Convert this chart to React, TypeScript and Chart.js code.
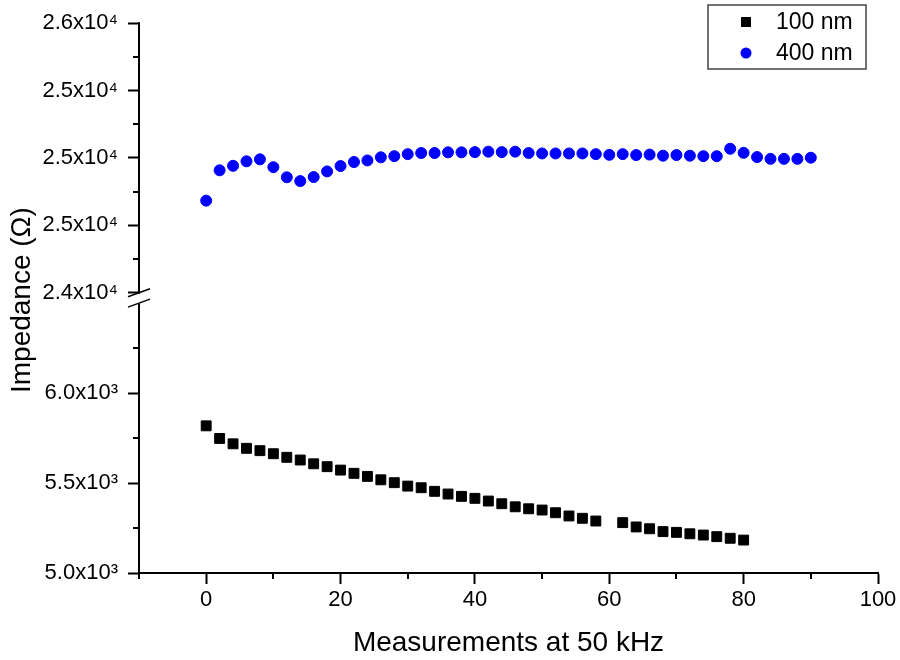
import React, { useEffect, useRef } from 'react';
import { Chart, registerables } from 'chart.js';

Chart.register(...registerables);

const X_TITLE = 'Measurements at 50 kHz';
const Y_TITLE = 'Impedance (Ω)';
const SERIES_NAMES = ['100 nm', '400 nm'];

const X_100 = [0, 2, 4, 6, 8, 10, 12, 14, 16, 18, 20, 22, 24, 26, 28, 30, 32, 34, 36, 38, 40, 42, 44, 46, 48, 50, 52, 54, 56, 58, 62, 64, 66, 68, 70, 72, 74, 76, 78, 80];
const Y_100 = [5818, 5748, 5718, 5693, 5680, 5663, 5643, 5628, 5607, 5591, 5572, 5554, 5537, 5518, 5502, 5483, 5474, 5454, 5439, 5426, 5415, 5400, 5385, 5368, 5357, 5350, 5335, 5317, 5304, 5289, 5280, 5256, 5246, 5230, 5226, 5218, 5211, 5202, 5193, 5183];

const X_400 = [0, 2, 4, 6, 8, 10, 12, 14, 16, 18, 20, 22, 24, 26, 28, 30, 32, 34, 36, 38, 40, 42, 44, 46, 48, 50, 52, 54, 56, 58, 60, 62, 64, 66, 68, 70, 72, 74, 76, 78, 80, 82, 84, 86, 88, 90];
const Y_400 = [24810, 24945, 24965, 24985, 24994, 24959, 24914, 24897, 24915, 24940, 24964, 24982, 24989, 25003, 25008, 25017, 25022, 25022, 25025, 25025, 25026, 25028, 25026, 25028, 25022, 25020, 25020, 25020, 25020, 25017, 25014, 25017, 25013, 25015, 25010, 25013, 25010, 25008, 25008, 25041, 25023, 25004, 24996, 24996, 24996, 25001];

const X_RANGE = [-10, 100];
const X_TICKS = [0, 20, 40, 60, 80, 100];
const X_MINOR = [-10, 10, 30, 50, 70, 90];

const TOP_RANGE = [24376, 25600];
const TOP_TICKS = [24400, 24700, 25000, 25300, 25600];
const TOP_MINOR = [24550, 24850, 25150, 25450];

const BOT_RANGE = [5000, 6528];
const BOT_BREAK = 6500;
const BOT_TICKS = [5000, 5500, 6000];
const BOT_MINOR = [5250, 5750, 6250];

const FONT = "'Liberation Sans', Arial, sans-serif";

function sci(v: number, exp: number, sup: string) {
  return (v / Math.pow(10, exp)).toFixed(1) + 'x10' + sup;
}

const decorPlugin = {
  id: 'decor',
  afterDraw(chart: any) {
    const ctx = chart.ctx;
    const xs = chart.scales.x;
    const yt = chart.scales.yTop;
    const yb = chart.scales.yBot;
    const ax = chart.chartArea.left;
    ctx.save();
    ctx.strokeStyle = '#000';
    ctx.lineWidth = 2;
    const breakTop = yt.getPixelForValue(TOP_TICKS[0]);
    const breakBot = yb.getPixelForValue(BOT_BREAK);
    // axis lines
    ctx.beginPath();
    ctx.moveTo(ax, yt.getPixelForValue(TOP_TICKS[TOP_TICKS.length - 1]) - 1);
    ctx.lineTo(ax, breakTop + 1);
    ctx.moveTo(ax, breakBot);
    ctx.lineTo(ax, yb.bottom + 1);
    ctx.stroke();
    // break slashes
    ctx.lineWidth = 1.5;
    ctx.beginPath();
    ctx.moveTo(ax - 11, breakTop + 4);
    ctx.lineTo(ax + 11, breakTop - 4);
    ctx.moveTo(ax - 11, breakBot + 4);
    ctx.lineTo(ax + 11, breakBot - 4);
    ctx.stroke();
    // minor ticks
    ctx.lineWidth = 2;
    ctx.beginPath();
    X_MINOR.forEach((v) => {
      const p = Math.round(xs.getPixelForValue(v));
      ctx.moveTo(p, xs.top);
      ctx.lineTo(p, xs.top + 6);
    });
    TOP_MINOR.forEach((v) => {
      const p = Math.round(yt.getPixelForValue(v));
      ctx.moveTo(ax - 6, p);
      ctx.lineTo(ax, p);
    });
    BOT_MINOR.forEach((v) => {
      const p = Math.round(yb.getPixelForValue(v));
      ctx.moveTo(ax - 6, p);
      ctx.lineTo(ax, p);
    });
    ctx.stroke();
    // y title
    ctx.fillStyle = '#000';
    ctx.font = `28px ${FONT}`;
    ctx.textAlign = 'center';
    ctx.textBaseline = 'middle';
    ctx.save();
    ctx.translate(22, (chart.chartArea.top + chart.chartArea.bottom) / 2 + 2);
    ctx.rotate(-Math.PI / 2);
    ctx.fillText(Y_TITLE, 0, 0);
    ctx.restore();
    // legend
    const lx = 708, ly = 5, lw = 158, lh = 64;
    ctx.lineWidth = 1.5;
    ctx.strokeStyle = '#444';
    ctx.strokeRect(lx, ly, lw, lh);
    ctx.font = `23px ${FONT}`;
    ctx.textAlign = 'left';
    chart.data.datasets.forEach((ds: any, i: number) => {
      const cy = ly + 17 + i * 31;
      const cx = lx + 38;
      ctx.fillStyle = ds.backgroundColor;
      if (ds.pointStyle === 'rect') {
        ctx.fillRect(cx - 5, cy - 5, 10, 10);
      } else {
        ctx.beginPath();
        ctx.arc(cx, cy, 5.5, 0, Math.PI * 2);
        ctx.fill();
      }
      ctx.fillStyle = '#000';
      ctx.fillText(ds.label, lx + 68, cy + 1);
    });
    ctx.restore();
  },
};

export default function App() {
  const ref = useRef<HTMLCanvasElement | null>(null);
  useEffect(() => {
    if (!ref.current) return;
    const chart = new Chart(ref.current, {
      type: 'scatter',
      data: {
        datasets: [
          {
            label: SERIES_NAMES[0],
            data: X_100.map((x, i) => ({ x, y: Y_100[i] })),
            yAxisID: 'yBot',
            pointStyle: 'rect',
            pointRadius: 7,
            pointHoverRadius: 7,
            backgroundColor: '#000000',
            borderColor: '#000000',
            borderWidth: 1,
          },
          {
            label: SERIES_NAMES[1],
            data: X_400.map((x, i) => ({ x, y: Y_400[i] })),
            yAxisID: 'yTop',
            pointStyle: 'circle',
            pointRadius: 5.5,
            pointHoverRadius: 5.5,
            backgroundColor: '#0000ff',
            borderColor: '#0000ff',
            borderWidth: 1,
          },
        ],
      },
      options: {
        animation: false,
        responsive: false,
        events: [],
        layout: { padding: { top: 23, right: 22, left: 0, bottom: 0 } },
        plugins: { legend: { display: false }, tooltip: { enabled: false } },
        scales: {
          x: {
            type: 'linear',
            min: X_RANGE[0],
            max: X_RANGE[1],
            afterBuildTicks: (s: any) => {
              s.ticks = X_TICKS.map((v) => ({ value: v }));
            },
            afterFit: (s: any) => {
              s.height = 87;
            },
            ticks: {
              autoSkip: false,
              maxRotation: 0,
              padding: 3,
              color: '#000',
              font: { family: FONT, size: 22 },
            },
            grid: {
              drawOnChartArea: false,
              drawTicks: true,
              tickLength: 11,
              tickWidth: 2,
              tickColor: '#000',
            },
            border: { display: true, color: '#000', width: 2 },
            title: {
              display: true,
              text: X_TITLE,
              color: '#000',
              font: { family: FONT, size: 28 },
              padding: 0,
            },
          },
          yTop: {
            type: 'linear',
            position: 'left',
            stack: 'ystack',
            stackWeight: 1,
            weight: 1,
            min: TOP_RANGE[0],
            max: TOP_RANGE[1],
            afterBuildTicks: (s: any) => {
              s.ticks = TOP_TICKS.map((v) => ({ value: v }));
            },
            afterFit: (s: any) => {
              s.width = 139;
            },
            ticks: {
              autoSkip: false,
              padding: 10,
              color: '#000',
              font: { family: FONT, size: 22 },
              callback: (v: any) => sci(Number(v), 4, '⁴'),
            },
            grid: {
              drawOnChartArea: false,
              drawTicks: true,
              tickLength: 11,
              tickWidth: 2,
              tickColor: '#000',
            },
            border: { display: false },
          },
          yBot: {
            type: 'linear',
            position: 'left',
            stack: 'ystack',
            stackWeight: 1,
            weight: 0,
            min: BOT_RANGE[0],
            max: BOT_RANGE[1],
            afterBuildTicks: (s: any) => {
              s.ticks = BOT_TICKS.map((v) => ({ value: v }));
            },
            afterFit: (s: any) => {
              s.width = 139;
            },
            ticks: {
              autoSkip: false,
              padding: 10,
              color: '#000',
              font: { family: FONT, size: 22 },
              callback: (v: any) => sci(Number(v), 3, '³'),
            },
            grid: {
              drawOnChartArea: false,
              drawTicks: true,
              tickLength: 11,
              tickWidth: 2,
              tickColor: '#000',
            },
            border: { display: false },
          },
        },
      },
      plugins: [decorPlugin],
    } as any);
    return () => chart.destroy();
  }, []);
  return (
    <div style={{ position: 'absolute', left: 0, top: 0, width: 900, height: 660, background: '#fff' }}>
      <canvas ref={ref} width={900} height={660} style={{ display: 'block' }} />
    </div>
  );
}
